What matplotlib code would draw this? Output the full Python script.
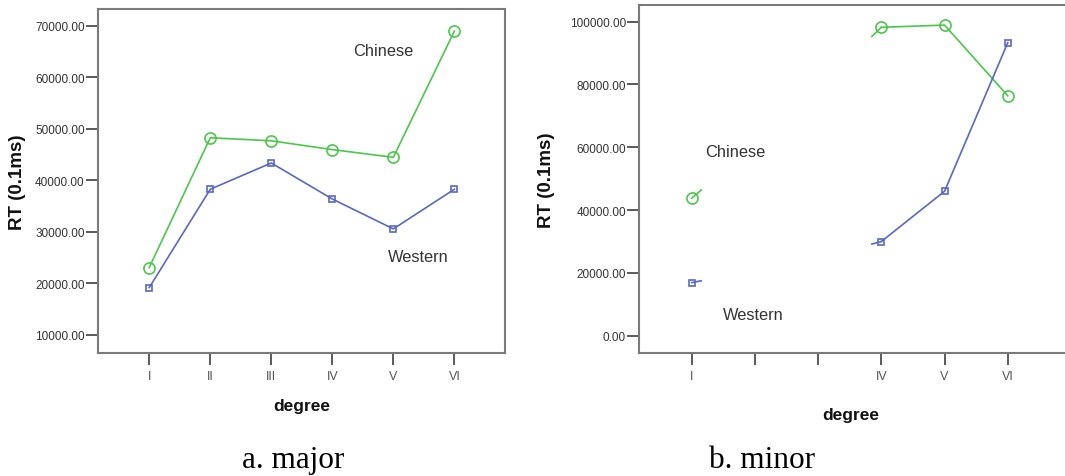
import matplotlib.pyplot as plt
import numpy as np

plt.rcParams['font.family'] = ['Liberation Sans', 'DejaVu Sans']

# Scale degrees on the x axis
degrees = ['I', 'II', 'III', 'IV', 'V', 'VI']
minor_labels = ['I', '', '', 'IV', 'V', 'VI']

# Mean RT (0.1ms), major keys
major_chinese = [23100, 48300, 47700, 46000, 44500, 69000]
major_western = [19200, 38300, 43400, 36400, 30600, 38300]

# Mean RT (0.1ms), minor keys (II and III missing)
minor_chinese = [43800, np.nan, np.nan, 98200, 98900, 76400]
minor_western = [16900, np.nan, np.nan, 30000, 46000, 93300]

# Short line ends drawn next to a missing neighbour: (degree index, value at stub end)
stub_chinese = [(0, 46400), (3, 95300)]
stub_western = [(0, 17500), (3, 29200)]

GREEN = '#4cc74c'
BLUE = '#5a68c4'

fig = plt.figure(figsize=(10.65, 4.77), dpi=100)
axA = fig.add_axes([98 / 1065, 123 / 477, 407 / 1065, 344 / 477])
axB = fig.add_axes([639.3 / 1065, 123 / 477, 428.5 / 1065, 348 / 477])


def style_axes(ax, ylab_x):
    for s in ax.spines.values():
        s.set_color('#7a7a7a')
        s.set_linewidth(1.5)
    ax.tick_params(axis='both', length=8.5, width=1.2, color='#404040',
                   labelsize=8.5, labelcolor='#333333')
    ax.tick_params(axis='y', pad=1)
    ax.tick_params(axis='x', pad=4, labelcolor='#555555', labelsize=9)
    ax.set_ylabel('RT (0.1ms)', fontsize=13.5, fontweight='bold', color='#111111')
    ax.yaxis.set_label_coords(ylab_x, 0.5)
    ax.set_xlabel('degree', fontsize=12.5, fontweight='bold', color='#111111')


def plot_series(ax, vals, color, marker, ms):
    x = np.arange(len(vals))
    ax.plot(x, vals, color=color, lw=1.2, marker=marker, ms=ms,
            mfc='none', mec=color, mew=1.2)


# a. major
x = np.arange(len(degrees))
plot_series(axA, major_chinese, GREEN, 'o', 8)
plot_series(axA, major_western, BLUE, 's', 4.5)
axA.set_xticks(x)
axA.set_xticklabels(degrees)
axA.set_xlim(-0.84, 5.83)
axA.set_ylim(6500, 73300)
axA.set_yticks(np.arange(10000, 70001, 10000))
axA.yaxis.set_major_formatter(plt.FormatStrFormatter('%.2f'))
style_axes(axA, -0.177)
axA.xaxis.set_label_coords(0.5, -0.13)
axA.text(3.84, 65300, 'Chinese', fontsize=11.8, color='#333333', ha='center', va='center')
axA.text(4.41, 25300, 'Western', fontsize=11.8, color='#333333', ha='center', va='center')

# b. minor
plot_series(axB, minor_chinese, GREEN, 'o', 8)
plot_series(axB, minor_western, BLUE, 's', 4.5)
for stubs, vals, color in [(stub_chinese, minor_chinese, GREEN),
                           (stub_western, minor_western, BLUE)]:
    for i, end in stubs:
        dx = 0.15 if i == 0 else -0.15
        axB.plot([i, i + dx], [vals[i], end], color=color, lw=1.2)
axB.set_xticks(x)
axB.set_xticklabels(minor_labels)
axB.set_xlim(-0.83, 5.95)
axB.set_ylim(-5500, 105300)
axB.set_yticks(np.arange(0, 100001, 20000))
axB.yaxis.set_major_formatter(plt.FormatStrFormatter('%.2f'))
style_axes(axB, -0.197)
axB.xaxis.set_label_coords(211 / 428.5, -0.155)
axB.text(0.685, 58500, 'Chinese', fontsize=11.8, color='#333333', ha='center', va='center')
axB.text(0.97, 6600, 'Western', fontsize=11.8, color='#333333', ha='center', va='center')

fig.text(293 / 1065, 1 - 461 / 477, 'a. major', fontsize=22.5, family='Liberation Serif',
         ha='center', va='center')
fig.text(762 / 1065, 1 - 461 / 477, 'b. minor', fontsize=22.5, family='Liberation Serif',
         ha='center', va='center')

fig.savefig('out.png', dpi=100, facecolor='white')
